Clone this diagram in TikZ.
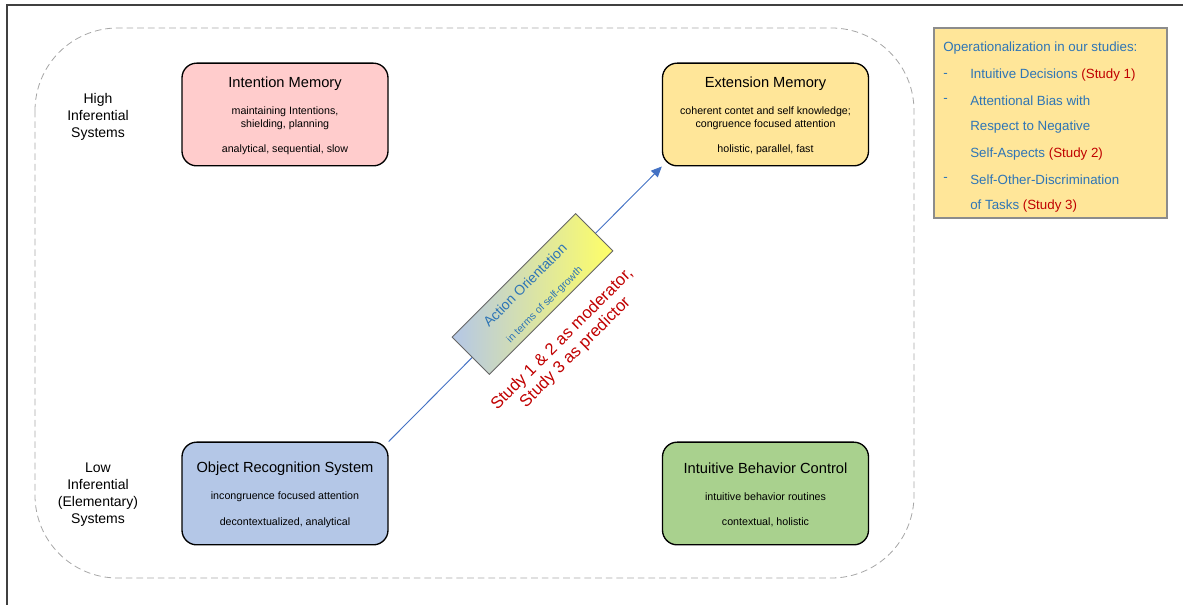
\documentclass[tikz,border=0pt]{standalone}
\usepackage{fontspec}
\setmainfont{Liberation Sans}
\usetikzlibrary{arrows.meta}
\definecolor{pinkfill}{HTML}{FFCCCC}
\definecolor{yellowfill}{HTML}{FFE699}
\definecolor{bluefill}{HTML}{B4C7E7}
\definecolor{greenfill}{HTML}{A9D18E}
\definecolor{txtblue}{HTML}{2E75B6}
\definecolor{txtred}{HTML}{C00000}
\definecolor{arrowblue}{HTML}{4472C4}
\definecolor{gradyellow}{HTML}{FFFF66}
\tikzset{
  sysbox/.style={draw=black, line width=1pt, rounded corners=11pt, minimum width=154.5pt, minimum height=77pt, inner sep=0pt},
  ttl/.style={font=\fontsize{11}{13}\selectfont},
  sub/.style={font=\fontsize{8}{9.5}\selectfont, align=center},
  sidelabel/.style={font=\fontsize{10.5}{12.8}\selectfont, align=center},
  optext/.style={font=\fontsize{10}{12}\selectfont, text=txtblue, anchor=west, inner sep=0pt},
}
\begin{document}
\begin{tikzpicture}[x=0.75pt,y=-0.75pt]
\useasboundingbox (0,0) rectangle (1183,605);
% frame
\coordinate (f1) at (7,605);
\coordinate (f2) at (7,5);
\coordinate (f3) at (1183,5);
\draw[line width=1.2pt, black!75] (f1) -- (f2) -- (f3);
% dashed region
\draw[gray!70, line width=0.6pt, dash pattern=on 5pt off 3pt, rounded corners=62pt] (35,28) rectangle (914,578);

% boxes
\node[sysbox, fill=pinkfill] (im) at (285,114.5) {};
\node[sysbox, fill=yellowfill] (em) at (765.5,114.5) {};
\node[sysbox, fill=bluefill] (ors) at (285,493.5) {};
\node[sysbox, fill=greenfill] (ibc) at (765.5,493.5) {};

% box texts
\node[ttl] (imt) at (285,84) {Intention Memory};
\node[sub] (ims1) at (285,118.5) {maintaining Intentions,\\shielding, planning};
\node[sub] (ims2) at (285,149.5) {analytical, sequential, slow};

\node[ttl] (emt) at (765.5,84) {Extension Memory};
\node[sub] (ems1) at (765.5,118) {coherent contet and self knowledge;\\congruence focused attention};
\node[sub] (ems2) at (765.5,149.5) {holistic, parallel, fast};

\node[ttl] (orst) at (285,468.5) {Object Recognition System};
\node[sub] (orss1) at (285,496.5) {incongruence focused attention};
\node[sub] (orss2) at (285,522.5) {decontextualized, analytical};

\node[ttl] (ibct) at (765.5,468.5) {Intuitive Behavior Control};
\node[sub] (ibcs1) at (765.5,496.5) {intuitive behavior routines};
\node[sub] (ibcs2) at (765.5,522.5) {contextual, holistic};

% side labels
\node[sidelabel] (high) at (98,117) {High\\Inferential\\Systems};
\node[sidelabel] (low) at (98,494.5) {Low\\Inferential\\(Elementary)\\Systems};

% arrow
\draw[-{Triangle[length=8pt,width=7pt]}, arrowblue, line width=0.7pt] (ors.north east) -- (em.south west);

% action orientation box
\node[draw=gray!80!black, line width=0.6pt, rotate=45, minimum width=131pt, minimum height=39.5pt, inner sep=0pt,
      left color=bluefill, right color=gradyellow] (ao) at (532.5,294) {};
\node[rotate=45, text=txtblue, font=\fontsize{10.5}{12}\selectfont] (aot) at (525,285) {Action Orientation};
\node[rotate=45, text=txtblue, font=\fontsize{7.8}{9}\selectfont] (aos) at (545,305) {in terms of self-growth};

% study text
\node[rotate=45, text=txtred, align=center, font=\fontsize{12.5}{14}\selectfont] (st) at (569,346) {Study 1 \& 2 as moderator,\\Study 3 as predictor};

% operationalization box
\node[draw=gray!90, fill=yellowfill, line width=0.8pt, minimum width=174.75pt, minimum height=142.5pt, inner sep=0pt] (op) at (1050.5,123) {};
\node[optext] (op0) at (943,48.5) {Operationalization in our studies:};
\node[optext] (d1) at (943,75.5) {-};
\node[optext] (o1) at (970,75.5) {Intuitive Decisions \textcolor{txtred}{(Study 1)}};
\node[optext] (d2) at (943,100.5) {-};
\node[optext] (o2) at (970,100.5) {Attentional Bias with};
\node[optext] (o3) at (970,127.5) {Respect to Negative};
\node[optext] (o4) at (970,154.5) {Self-Aspects \textcolor{txtred}{(Study 2)}};
\node[optext] (d3) at (943,179.5) {-};
\node[optext] (o5) at (970,179.5) {Self-Other-Discrimination};
\node[optext] (o6) at (970,206.5) {of Tasks \textcolor{txtred}{(Study 3)}};
\end{tikzpicture}
\end{document}
